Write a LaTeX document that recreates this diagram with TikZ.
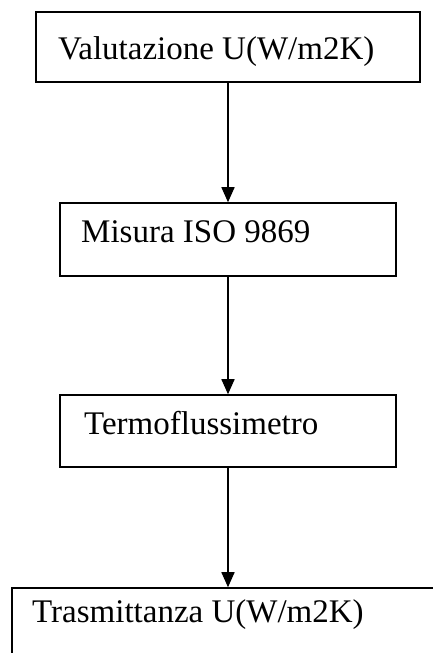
\documentclass[tikz,border=0pt]{standalone}
\usepackage{fontspec}
\setmainfont{Liberation Serif}
\usetikzlibrary{arrows.meta}
\begin{document}
\begin{tikzpicture}[x=1pt,y=1pt,
  boxst/.style={draw=black, line width=1.5pt, rectangle, inner sep=0pt},
  lbl/.style={anchor=base west, inner sep=0pt, font=\fontsize{33}{39}\selectfont},
  arr/.style={draw=black, line width=1.5pt, -{Triangle[length=15pt,width=13pt]}}]
\clip (0,0) rectangle (433,653);
\fill[white] (0,0) rectangle (433,653);
\node[boxst, minimum width=384pt, minimum height=70pt] (b1) at (228,606) {};
\node[boxst, minimum width=336pt, minimum height=73pt] (b2) at (228,413.5) {};
\node[boxst, minimum width=336pt, minimum height=72pt] (b3) at (228,222) {};
\node[boxst, minimum width=448pt, minimum height=85pt] (b4) at (236,22.5) {};
\node[lbl] (t1) at (58,593) {Valutazione U(W/m2K)};
\node[lbl] (t2) at (81,410) {Misura ISO 9869};
\node[lbl] (t3) at (84,218) {Termoflussimetro};
\node[lbl] (t4) at (32,30) {Trasmittanza U(W/m2K)};
\draw[arr] (b1.south) -- (b2.north);
\draw[arr] (b2.south) -- (b3.north);
\draw[arr] (b3.south) -- (b3.south |- b4.north);
\end{tikzpicture}
\end{document}
